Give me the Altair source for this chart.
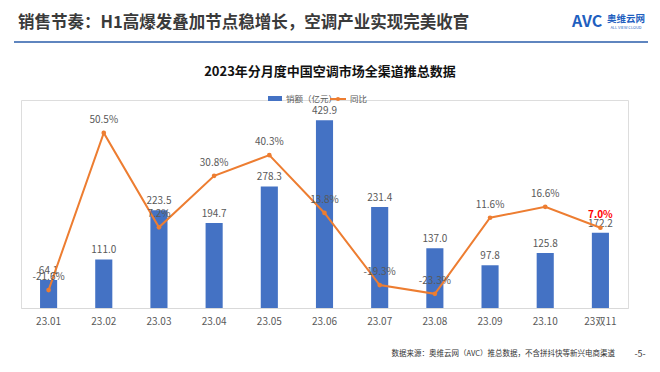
import altair as alt
import pandas as pd

months = ["23.01", "23.02", "23.03", "23.04", "23.05", "23.06", "23.07", "23.08", "23.09", "23.10", "23双11"]
sales = [64.1, 111.0, 223.5, 194.7, 278.3, 429.9, 231.4, 137.0, 97.8, 125.8, 172.2]
yoy = [-21.6, 50.5, 7.2, 30.8, 40.3, 13.8, -19.3, -23.3, 11.6, 16.6, 7.0]
highlight = [0, 0, 0, 0, 0, 0, 0, 0, 0, 0, 1]

FONT = "Noto Sans CJK SC"
BLUE = "#4472C4"
ORANGE = "#ED7D31"
GRAY = "#595959"

df = pd.DataFrame({"month": months, "sales": sales, "yoy": yoy, "hl": highlight})
df["sales_lbl"] = df["sales"].map(lambda v: f"{v:.1f}")
df["yoy_lbl"] = df["yoy"].map(lambda v: f"{v:.1f}%")

W, H = 607, 208
PL, PT = 13, 92

x_enc = alt.X("month:N", sort=months, title=None,
              scale=alt.Scale(paddingInner=0.69, paddingOuter=0.345),
              axis=alt.Axis(labelAngle=0, ticks=False, domainColor="#d9d9d9",
                            labelColor=GRAY, labelFont=FONT, labelFontSize=10,
                            labelPadding=8, grid=False))
y_bar = alt.Y("sales:Q", scale=alt.Scale(domain=[0, 476], nice=False, zero=True), axis=None)
y_line = alt.Y("yoy:Q", scale=alt.Scale(domain=[-29.8, 65.6], nice=False, zero=False), axis=None)

base = alt.Chart(df)
bars = base.mark_bar(color=BLUE).encode(x=x_enc, y=y_bar)
bar_txt = base.mark_text(dy=-4, baseline="bottom", font=FONT, fontSize=10, color=GRAY).encode(
    x=x_enc, y=y_bar, text="sales_lbl:N")
line = base.mark_line(color=ORANGE, strokeWidth=2).encode(x=x_enc, y=y_line)
pts = base.mark_point(color=ORANGE, filled=True, size=22, opacity=1).encode(x=x_enc, y=y_line)
line_txt = base.transform_filter("datum.hl == 0").mark_text(
    dy=-8, baseline="bottom", font=FONT, fontSize=10, color=GRAY).encode(
    x=x_enc, y=y_line, text="yoy_lbl:N")
line_txt_hl = base.transform_filter("datum.hl == 1").mark_text(
    dy=-8, baseline="bottom", font=FONT, fontSize=10, color="#FF0000", fontWeight="bold").encode(
    x=x_enc, y=y_line, text="yoy_lbl:N")

one = pd.DataFrame({"a": [0]})


def px(v):
    return v - 8 - PL


def py(v):
    return v - 8 - PT


def txt(s, x, y, size, color, weight="normal", align="left"):
    return alt.Chart(one).mark_text(text=s, font=FONT, fontSize=size, color=color,
                                    fontWeight=weight, align=align, baseline="middle").encode(
        x=alt.value(px(x)), y=alt.value(py(y)))


annots = [
    txt("销售节奏：H1高爆发叠加节点稳增长，空调产业实现完美收官", 18, 23, 16.5, "#3a3a3a", "bold"),
    alt.Chart(one).mark_rule(color="#2a5caa", strokeWidth=1.5).encode(
        x=alt.value(px(14)), x2=alt.value(px(648)), y=alt.value(py(42))),
    txt("AVC", 572, 22, 16, "#1f5fbf", "bold"),
    txt("奥维云网", 607, 19, 9.5, "#1f5fbf", "bold"),
    txt("ALL VIEW CLOUD", 626, 28, 4, "#1f5fbf", "normal", align="center"),
    txt("2023年分月度中国空调市场全渠道推总数据", 330, 72, 13, "#111111", "bold", align="center"),
    alt.Chart(one).mark_rect(color=BLUE).encode(
        x=alt.value(px(268)), x2=alt.value(px(282)), y=alt.value(py(96)), y2=alt.value(py(101))),
    txt("销额（亿元）", 286, 99, 8.5, GRAY),
    alt.Chart(one).mark_rule(color=ORANGE, strokeWidth=2).encode(
        x=alt.value(px(330)), x2=alt.value(px(346)), y=alt.value(py(99))),
    alt.Chart(one).mark_point(color=ORANGE, filled=True, size=18, opacity=1).encode(
        x=alt.value(px(338)), y=alt.value(py(99))),
    txt("同比", 350, 99, 8.5, GRAY),
    txt("数据来源：奥维云网（AVC）推总数据，不含拼抖快等新兴电商渠道", 615, 354, 7.5, "#333333", align="right"),
    txt("-5-", 640, 354, 9, "#333333", align="center"),
]

chart = alt.layer(bars, bar_txt, line, pts, line_txt, line_txt_hl, *annots).resolve_scale(
    y="independent").properties(
    width=W, height=H, autosize="none",
    padding={"left": PL, "top": PT, "right": 644 - PL - W, "bottom": 356 - PT - H},
).configure_view(stroke=None).configure(background="white")

chart.save("out.html", embed_options={"renderer": "svg", "actions": False})
